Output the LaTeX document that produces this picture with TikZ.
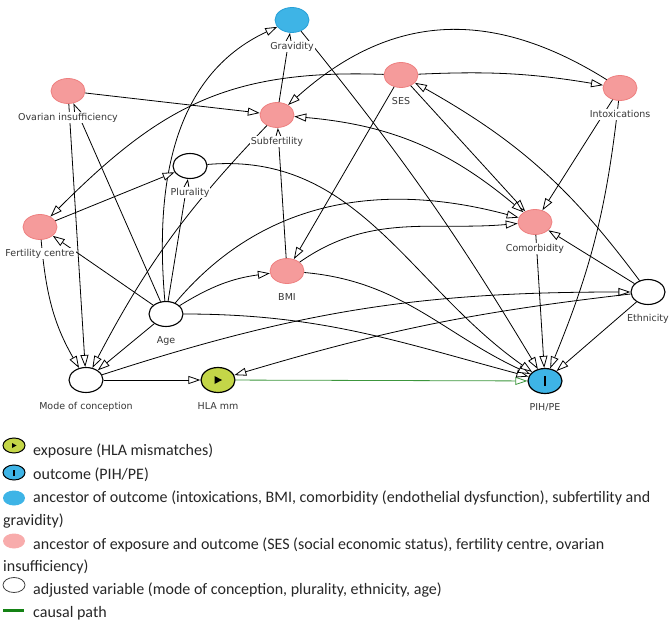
\documentclass[tikz,border=0pt]{standalone}
\usepackage{fontspec}
\setmainfont{Carlito}
\newfontfamily\lblfont{DejaVu Sans}
\usetikzlibrary{arrows.meta,positioning,shapes.geometric}

\definecolor{pinkfill}{RGB}{245,155,155}
\definecolor{pinkline}{RGB}{238,128,128}
\definecolor{pinklight}{RGB}{248,172,172}
\definecolor{bluefill}{RGB}{62,180,230}
\definecolor{blueline}{RGB}{40,160,215}
\definecolor{expfill}{RGB}{196,214,72}
\definecolor{pathgreen}{RGB}{60,150,60}
\definecolor{leggreen}{RGB}{20,130,20}
\definecolor{lblgray}{RGB}{55,55,55}

\tikzset{
  var/.style={ellipse, minimum width=34pt, minimum height=25pt, inner sep=0pt},
  pinkvar/.style={var, fill=pinkfill, draw=pinkline, line width=0.8pt},
  bluevar/.style={var, fill=bluefill, draw=blueline, line width=0.8pt},
  adjvar/.style={var, fill=white, draw=black, line width=1.1pt},
  expvar/.style={var, fill=expfill, draw=black, line width=1.2pt},
  outvar/.style={var, fill=bluefill, draw=black, line width=1.2pt},
  legicon/.style={minimum width=22pt, minimum height=15pt},
  lbl/.style={fill=white, inner sep=1pt, text height=7pt, text depth=2pt,
    font=\lblfont\fontsize{9.5}{11}\selectfont, text=lblgray},
  legtext/.style={anchor=base west, inner sep=0pt,
    font=\fontsize{16}{18}\selectfont, text=black!85},
  edge/.style={-{Triangle[open, fill=white, length=12pt, width=8pt]}, line width=0.8pt},
  biedge/.style={{Triangle[open, fill=white, length=12pt, width=8pt]}-{Triangle[open, fill=white, length=12pt, width=8pt]}, line width=0.8pt},
  causal/.style={edge, draw=pathgreen}
}

\begin{document}
\begin{tikzpicture}[x=1pt,y=1pt]
\useasboundingbox (0,0) rectangle (671,622);
% variables
\node[bluevar] (grav) at (292,602) {};
\node[pinkvar] (ovar) at (68,531) {};
\node[pinkvar] (subf) at (277,507) {};
\node[pinkvar] (ses) at (401,547) {};
\node[pinkvar] (intox) at (620,534) {};
\node[adjvar] (plur) at (190,456) {};
\node[pinkvar] (fert) at (40,395) {};
\node[pinkvar] (comor) at (535,400) {};
\node[pinkvar] (bmi) at (287,351) {};
\node[adjvar] (age) at (166,308) {};
\node[adjvar] (eth) at (648,330) {};
\node[adjvar] (mode) at (86,242) {};
\node[expvar] (hla) at (218,242) {};
\node[outvar] (pih) at (545,241) {};
\fill (hla.center) ++(-3.5,4) -- ++(7.5,-4) -- ++(-7.5,-4) -- cycle;
\fill (pih.center) ++(-1.3,-5) rectangle ++(2.6,10);
% arrows
\draw[edge] (ovar) -- (subf);
\draw[edge] (ovar) -- (mode);
\draw[edge] (age) -- (ovar);
\draw[edge] (age) to[out=95,in=205] (grav);
\draw[edge] (subf) -- (grav);
\draw[edge] (grav) to[bend left=4] (pih);
\draw[edge] (ses) to[bend left=6] (intox);
\draw[edge] (intox) to[out=148,in=42,looseness=1.1] (subf);
\draw[edge] (ses) to[out=178,in=45,looseness=1.1] (fert);
\draw[edge] (ses) -- (bmi);
\draw[edge] (ses) -- (comor);
\draw[edge] (eth) to[bend right=12] (ses);
\draw[edge] (intox) -- (comor);
\draw[edge] (intox) to[bend left=8] (pih);
\draw[edge] (eth) -- (comor);
\draw[edge] (eth) -- (pih);
\draw[edge] (comor) -- (pih);
\draw[edge] (mode) to[out=18,in=180] (eth);
\draw[edge] (eth) to[bend right=5] (hla);
\draw[edge] (mode) -- (hla);
\draw[causal] (hla) -- (pih);
\draw[edge] (fert) -- (plur);
\draw[edge] (fert) to[out=-85,in=120] (mode);
\draw[edge] (age) -- (fert);
\draw[edge] (age) -- (plur);
\draw[edge] (age) -- (mode);
\draw[edge] (age) to[bend left=12] (bmi);
\draw[edge] (age) to[out=50,in=165] (comor);
\draw[edge] (age) to[out=0,in=165] (pih);
\draw[edge] (subf) to[bend right=8] (mode);
\draw[edge] (bmi) -- (subf);
\draw[edge] (bmi) to[out=35,in=185] (comor);
\draw[edge] (bmi) to[out=-5,in=155] (pih);
\draw[edge] (plur) to[out=5,in=145] (pih);
\draw[biedge] (subf) to[out=-5,in=140] (comor);
% names
\node[lbl, below=8pt of grav] (grav-l) {Gravidity};
\node[lbl, below=8pt of ovar] (ovar-l) {Ovarian insufficiency};
\node[lbl, below=8pt of subf] (subf-l) {Subfertility};
\node[lbl, below=8pt of ses] (ses-l) {SES};
\node[lbl, below=8pt of intox] (intox-l) {Intoxications};
\node[lbl, below=8pt of plur] (plur-l) {Plurality};
\node[lbl, below=8pt of fert] (fert-l) {Fertility centre};
\node[lbl, below=8pt of comor] (comor-l) {Comorbidity};
\node[lbl, below=8pt of bmi] (bmi-l) {BMI};
\node[lbl, below=8pt of age] (age-l) {Age};
\node[lbl, below=8pt of eth] (eth-l) {Ethnicity};
\node[lbl, below=8pt of mode] (mode-l) {Mode of conception};
\node[lbl, below=8pt of hla] (hla-l) {HLA mm};
\node[lbl, below=8pt of pih] (pih-l) {PIH/PE};
% legend
\node[expvar, legicon, line width=1pt] (key-exp) at (14,176.5) {};
\fill (key-exp.center) ++(-2,2.5) -- ++(4.5,-2.5) -- ++(-4.5,-2.5) -- cycle;
\node[outvar, legicon, line width=1pt] (key-out) at (14,149.5) {};
\fill (key-out.center) ++(-0.8,-3) rectangle ++(1.6,6);
\node[var, legicon, fill=bluefill] (key-anc) at (14,124) {};
\node[var, legicon, fill=pinklight] (key-conf) at (14,81) {};
\node[var, legicon, fill=white, draw=black!75, line width=0.8pt] (key-adj) at (14,37) {};
\coordinate (key-path-a) at (3,11.5);
\coordinate (key-path-b) at (24,11.5);
\draw[leggreen, line width=3.5pt] (key-path-a) -- (key-path-b);
\node[legtext] (txt-exp) at (33,167) {exposure (HLA mismatches)};
\node[legtext] (txt-out) at (33,143) {outcome (PIH/PE)};
\node[legtext] (txt-anc) at (33,119.5) {ancestor of outcome (intoxications, BMI, comorbidity (endothelial dysfunction), subfertility and};
\node[legtext] (txt-anc2) at (3,97) {gravidity)};
\node[legtext] (txt-conf) at (33,73) {ancestor of exposure and outcome (SES (social economic status), fertility centre, ovarian};
\node[legtext] (txt-conf2) at (3,50.5) {insufficiency)};
\node[legtext] (txt-adj) at (33,28) {adjusted variable (mode of conception, plurality, ethnicity, age)};
\node[legtext] (txt-path) at (33,5) {causal path};
\end{tikzpicture}
\end{document}
